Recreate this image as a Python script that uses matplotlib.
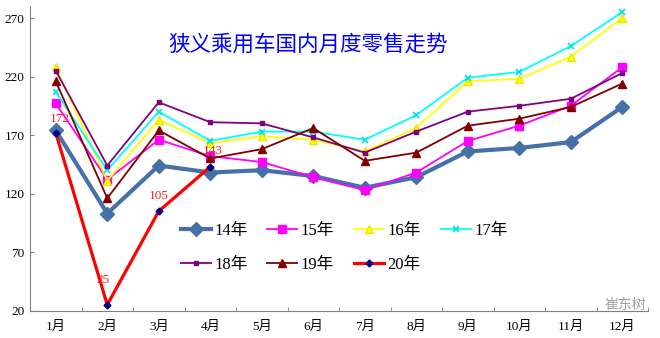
import matplotlib
matplotlib.use("Agg")
import matplotlib.pyplot as plt

months = ["1月", "2月", "3月", "4月", "5月", "6月", "7月", "8月", "9月", "10月", "11月", "12月"]
y14 = [174, 103, 144, 138, 140, 135, 125, 134, 156, 159, 164, 194]
y15 = [197, 132, 166, 152, 147, 134, 123, 138, 165, 178, 195, 228]
y16 = [228, 131, 183, 163, 169, 166, 156, 176, 216, 218, 237, 270]
y17 = [207, 140, 190, 165, 173, 173, 166, 187, 219, 224, 246, 275]
y18 = [225, 144, 198, 181, 180, 168, 155, 173, 190, 195, 201, 223]
y19 = [216, 116, 174, 150, 158, 176, 148, 155, 178, 184, 194, 214]
y20 = [172, 25, 105, 143]
labels = ["14年", "15年", "16年", "17年", "18年", "19年", "20年"]
yticks = [20, 70, 120, 170, 220, 270]
title = "狭义乘用车国内月度零售走势"
watermark = "崔东树"

serif = ["Liberation Serif", "Noto Sans CJK SC"]
plt.rcParams['font.family'] = serif

fig = plt.figure(figsize=(6.6, 3.38), dpi=100)
ax = fig.add_axes([30/660, 1-310.7/338, 618/660, (310.7-6.3)/338])
x = list(range(len(months)))

styles = [
    (y14, dict(color="#4671A8", lw=3.0, marker="D", ms=7, mfc="#4671A8", mec="#4671A8")),
    (y15, dict(color="#FF00FF", lw=1.3, marker="s", ms=6, mfc="#FF00FF", mec="#FF00FF")),
    (y16, dict(color="#FFFF00", lw=1.3, marker="^", ms=6, mfc="#FFFF00", mec="#E8E800")),
    (y17, dict(color="#00FFFF", lw=1.3, marker="x", ms=4, mew=1.2, mec="#00E0E0")),
    (y18, dict(color="#800080", lw=1.3, marker="s", ms=3.5, mfc="#800080", mec="#800080")),
    (y19, dict(color="#800000", lw=1.3, marker="^", ms=6, mfc="#800000", mec="#800000")),
    (y20, dict(color="#FF0000", lw=2.3, marker="D", ms=3.5, mfc="#000080", mec="#000080")),
]
handles = []
for (ys, st), lab in zip(styles, labels):
    h, = ax.plot(x[:len(ys)], ys, label=lab, **st)
    handles.append(h)

offsets = [(3, 10), (-3, 18), (0, 11), (2, 11)]
for i, (v, off) in enumerate(zip(y20, offsets)):
    ax.annotate(str(v), (x[i], v), xytext=off, textcoords="offset points",
                ha="center", va="center", color="#FF2020", fontsize=9.5)

ax.set_xlim(-0.5, 11.5)
ax.set_ylim(20, 280)
ax.set_yticks(yticks)
ax.set_xticks(x)
ax.set_xticklabels(months)
ax.set_xticks([i + 0.5 for i in range(11)] + [-0.5 + 12], minor=True)
ax.tick_params(axis="x", which="major", length=0, pad=7, labelsize=9.5)
ax.tick_params(axis="x", which="minor", direction="in", length=3, color="#808080")
ax.tick_params(axis="y", direction="in", length=3, labelsize=9.5, color="#808080", pad=4)
for s in ["top", "right"]:
    ax.spines[s].set_visible(False)
for s in ["left", "bottom"]:
    ax.spines[s].set_color("#808080")

ax.text(0.45, 0.873, title, transform=ax.transAxes, ha="center", va="center",
        color="#0000FF", fontsize=15.5, family=["Noto Sans CJK SC"])

order = [0, 4, 1, 5, 2, 6, 3]
ax.legend([handles[i] for i in order], [labels[i] for i in order],
          loc="upper left", bbox_to_anchor=(0.233, 0.31), ncol=4, frameon=False,
          fontsize=12, handlelength=1.8, columnspacing=1.2, handletextpad=0.2,
          labelspacing=1.05, borderaxespad=0)

fig.text(625/660, 1-305/338, watermark, ha="center", va="center", color="#A0A0A0",
         fontsize=10, family=["Noto Sans CJK SC"])

fig.savefig("out.png", dpi=100)
